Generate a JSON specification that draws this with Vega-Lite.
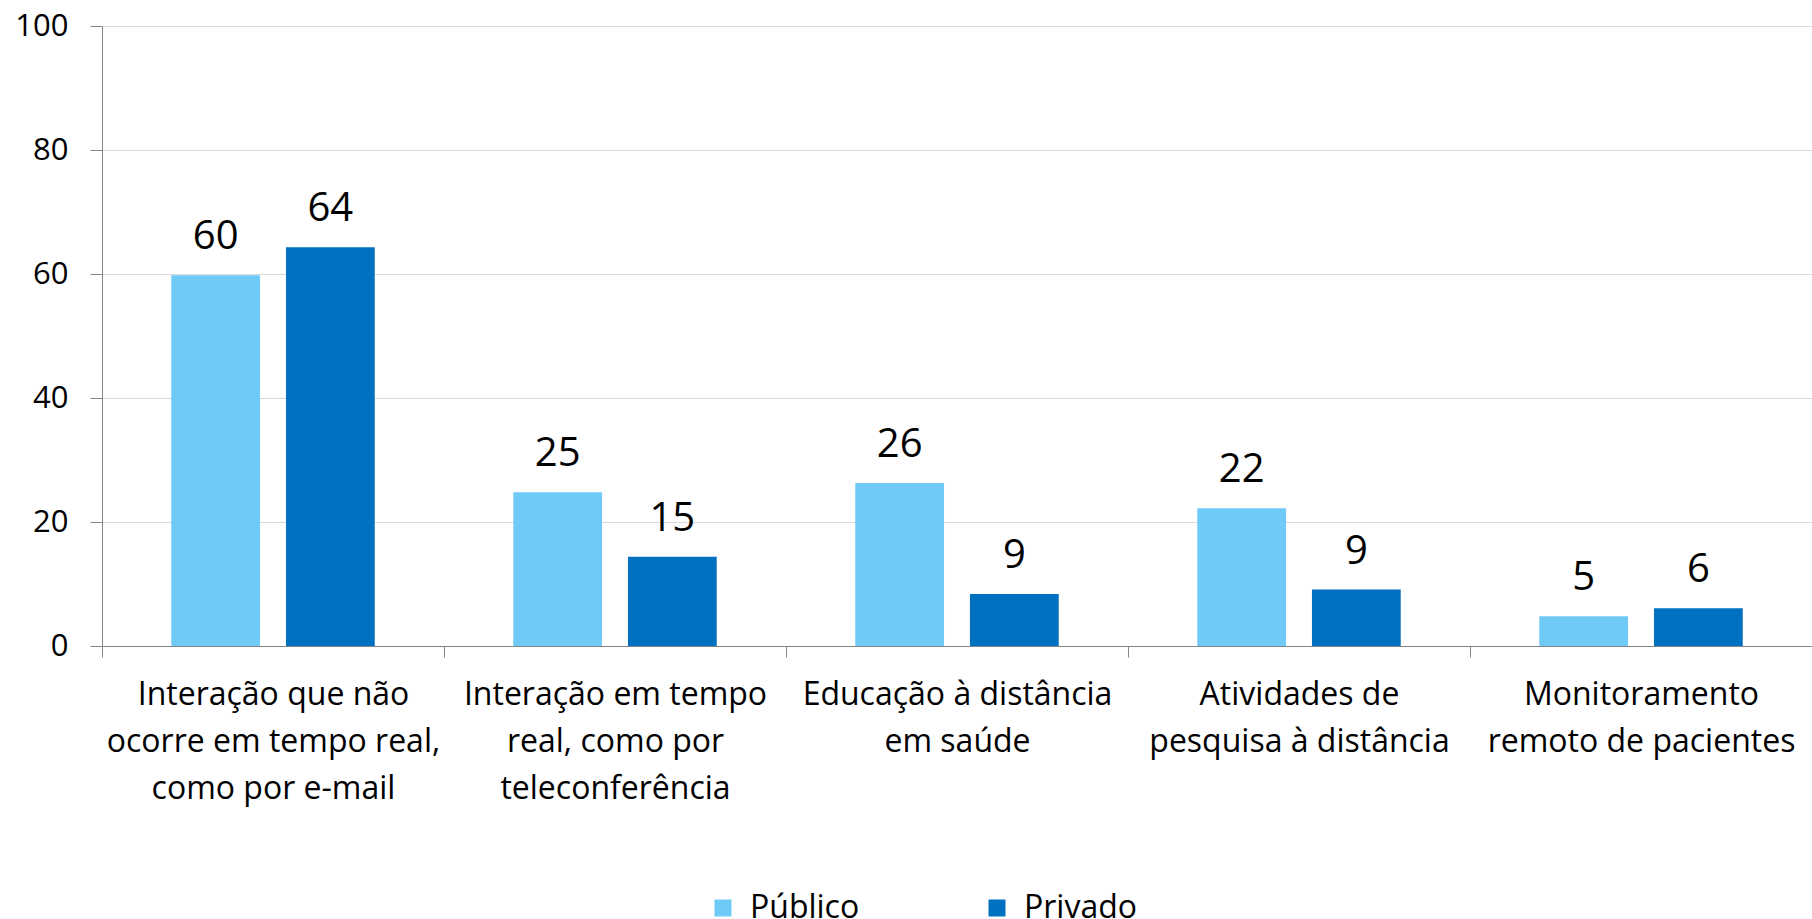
{
  "$schema": "https://vega.github.io/schema/vega-lite/v6.json",
  "width": 1710,
  "height": 620,
  "autosize": {"type": "none"},
  "padding": {"left": 102, "top": 26, "right": 0, "bottom": 273},
  "background": "white",
  "config": {
    "font": "Open Sans",
    "view": {"stroke": null}
  },
  "data": {
    "values": [
      {"cat": "Interação que não|ocorre em tempo real,|como por e-mail", "setor": "Público", "valor": 59.8, "rotulo": "60"},
      {"cat": "Interação que não|ocorre em tempo real,|como por e-mail", "setor": "Privado", "valor": 64.3, "rotulo": "64"},
      {"cat": "Interação em tempo|real, como por|teleconferência", "setor": "Público", "valor": 24.8, "rotulo": "25"},
      {"cat": "Interação em tempo|real, como por|teleconferência", "setor": "Privado", "valor": 14.4, "rotulo": "15"},
      {"cat": "Educação à distância|em saúde", "setor": "Público", "valor": 26.3, "rotulo": "26"},
      {"cat": "Educação à distância|em saúde", "setor": "Privado", "valor": 8.4, "rotulo": "9"},
      {"cat": "Atividades de|pesquisa à distância", "setor": "Público", "valor": 22.2, "rotulo": "22"},
      {"cat": "Atividades de|pesquisa à distância", "setor": "Privado", "valor": 9.1, "rotulo": "9"},
      {"cat": "Monitoramento|remoto de pacientes", "setor": "Público", "valor": 4.8, "rotulo": "5"},
      {"cat": "Monitoramento|remoto de pacientes", "setor": "Privado", "valor": 6.1, "rotulo": "6"}
    ]
  },
  "encoding": {
    "x": {
      "field": "cat",
      "type": "nominal",
      "sort": null,
      "scale": {"paddingInner": 0, "paddingOuter": 0},
      "axis": {
        "title": null,
        "labelAngle": 0,
        "labelExpr": "split(datum.label, '|')",
        "labelFontSize": 32,
        "labelLineHeight": 47,
        "labelColor": "#000000",
        "labelLimit": 400,
        "labelPadding": 22,
        "tickBand": "extent",
        "tickSize": 11,
        "tickColor": "#868686",
        "domainColor": "#868686",
        "grid": false
      }
    },
    "xOffset": {
      "field": "setor",
      "sort": ["Público", "Privado"],
      "scale": {"paddingInner": 0.226, "paddingOuter": 0.604}
    },
    "y": {
      "field": "valor",
      "type": "quantitative",
      "scale": {"domain": [0, 100], "nice": false},
      "axis": {
        "title": null,
        "values": [0, 20, 40, 60, 80, 100],
        "labelFontSize": 31,
        "labelColor": "#000000",
        "labelPadding": 22,
        "tickSize": 12,
        "tickColor": "#868686",
        "domainColor": "#868686",
        "gridColor": "#D9D9D9",
        "gridWidth": 1
      }
    }
  },
  "layer": [
    {
      "mark": {"type": "bar"},
      "encoding": {
        "color": {
          "field": "setor",
          "type": "nominal",
          "sort": ["Público", "Privado"],
          "scale": {"domain": ["Público", "Privado"], "range": ["#6FCAF8", "#0070C0"]},
          "legend": {
            "title": null,
            "orient": "none",
            "direction": "horizontal",
            "legendX": 605,
            "legendY": 866,
            "padding": 0,
            "symbolType": "square",
            "symbolSize": 289,
            "symbolStrokeWidth": 0,
            "labelFontSize": 32,
            "labelColor": "#000000",
            "labelOffset": 11,
            "columnPadding": 118,
            "gridAlign": "all"
          }
        }
      }
    },
    {
      "mark": {"type": "text", "fontSize": 40, "dy": -26, "baseline": "alphabetic", "color": "#000000"},
      "encoding": {
        "text": {"field": "rotulo"}
      }
    }
  ]
}
